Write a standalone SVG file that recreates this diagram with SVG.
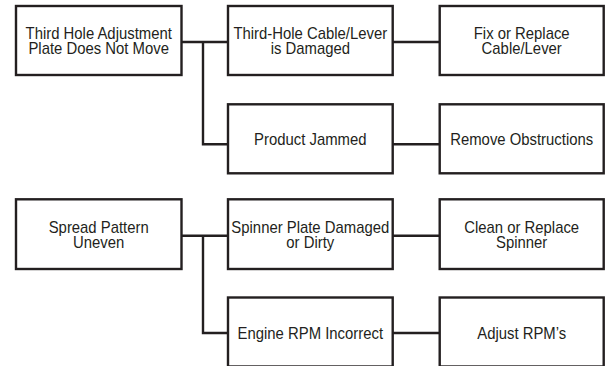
<svg xmlns="http://www.w3.org/2000/svg" width="605" height="366" viewBox="0 0 605 366">
<style>
.box{fill:#fff;stroke:#231f20;stroke-width:2.4}
.ln{fill:none;stroke:#231f20;stroke-width:2.4}
text{font-family:"Liberation Sans",Arial,sans-serif;font-size:16px;fill:#231f20;text-anchor:middle}
</style>
<rect width="605" height="366" fill="#fff"/>
<g id="connectors">
<path class="ln" d="M181.5,42 H228 M203,42 V144.3 H228 M392.7,42 H439.7 M392.7,144.3 H439.7"/>
<path class="ln" d="M181.5,235.7 H228 M203,235.7 V333 H228 M392.7,235.7 H439.7 M392.7,333 H439.7"/>
</g>
<g id="n1"><rect class="box" x="16" y="6" width="165.5" height="69"/><text transform="translate(98.7 38.7) scale(0.93 1)">Third Hole Adjustment</text><text transform="translate(98.7 54.3) scale(0.93 1)">Plate Does Not Move</text></g>
<g id="n2"><rect class="box" x="228" y="6" width="164.7" height="69"/><text transform="translate(310.3 38.7) scale(0.93 1)">Third-Hole Cable/Lever</text><text transform="translate(310.3 54.3) scale(0.93 1)">is Damaged</text></g>
<g id="n3"><rect class="box" x="439.7" y="6" width="164" height="69"/><text transform="translate(521.7 38.7) scale(0.93 1)">Fix or Replace</text><text transform="translate(521.7 54.3) scale(0.93 1)">Cable/Lever</text></g>
<g id="n4"><rect class="box" x="228" y="104.3" width="164.7" height="69"/><text transform="translate(310.3 145.3) scale(0.93 1)">Product Jammed</text></g>
<g id="n5"><rect class="box" x="439.7" y="104.3" width="164" height="69"/><text transform="translate(521.7 145.3) scale(0.93 1)">Remove Obstructions</text></g>
<g id="n6"><rect class="box" x="16" y="199.3" width="165.5" height="69.7"/><text transform="translate(98.7 232.7) scale(0.93 1)">Spread Pattern</text><text transform="translate(98.7 248.3) scale(0.93 1)">Uneven</text></g>
<g id="n7"><rect class="box" x="228" y="199.3" width="164.7" height="69.7"/><text transform="translate(310.3 232.7) scale(0.93 1)">Spinner Plate Damaged</text><text transform="translate(310.3 248.3) scale(0.93 1)">or Dirty</text></g>
<g id="n8"><rect class="box" x="439.7" y="199.3" width="164" height="69.7"/><text transform="translate(521.7 232.7) scale(0.93 1)">Clean or Replace</text><text transform="translate(521.7 248.3) scale(0.93 1)">Spinner</text></g>
<g id="n9"><rect class="box" x="228" y="297.5" width="164.7" height="69"/><text transform="translate(310.3 339.3) scale(0.93 1)">Engine RPM Incorrect</text></g>
<g id="n10"><rect class="box" x="439.7" y="297.5" width="164" height="69"/><text transform="translate(521.7 339.3) scale(0.93 1)">Adjust RPM’s</text></g>
</svg>
